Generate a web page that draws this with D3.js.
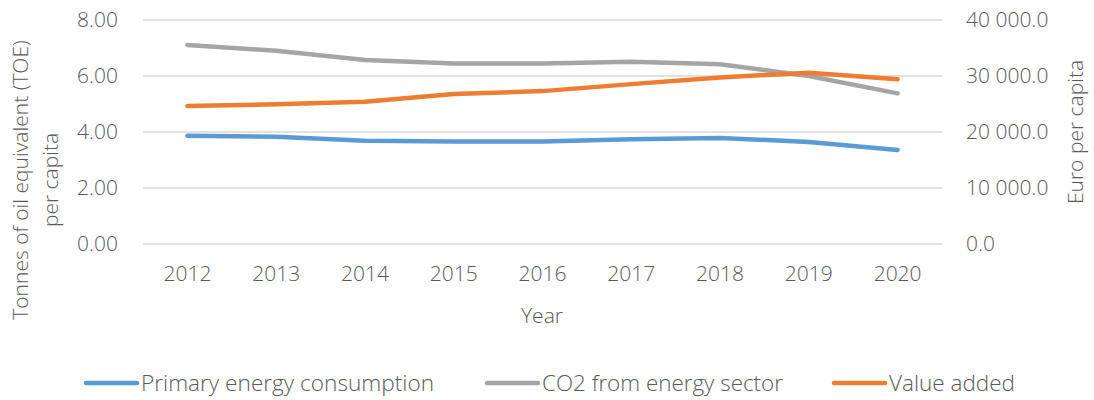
<!DOCTYPE html>
<html><head><meta charset="utf-8">
<script src="https://cdn.jsdelivr.net/npm/d3@7"></script>
<style>body{margin:0;background:#fff}svg{display:block}text{font-family:"Open Sans",sans-serif;fill:#595959;font-weight:300}</style>
</head><body><svg id="c" width="1094" height="400"></svg>
<script>
const years = [2012,2013,2014,2015,2016,2017,2018,2019,2020];
const primaryEnergy = [3.87,3.83,3.69,3.66,3.66,3.74,3.79,3.64,3.36];
const co2Energy = [7.11,6.90,6.57,6.45,6.45,6.51,6.42,6.00,5.38];
const valueAdded = [24650,24950,25400,26800,27300,28550,29750,30600,29400];
const leftTicks = [0,2,4,6,8];
const rightTicks = [0,10000,20000,30000,40000];
const seriesNames = ["Primary energy consumption","CO2 from energy sector","Value added"];
const colors = ["#5b9bd5","#a5a5a5","#ed7d31"];

const svg = d3.select("#c");
const x = d3.scaleBand().domain(years).range([143,942]);
const yL = d3.scaleLinear().domain([0,8]).range([244,20]);
const yR = d3.scaleLinear().domain([0,40000]).range([244,20]);
const cx = d => x(d) + x.bandwidth()/2;

// gridlines
svg.append("g").selectAll("line").data(leftTicks).join("line")
  .attr("x1",143).attr("x2",942).attr("y1",d=>yL(d)).attr("y2",d=>yL(d))
  .attr("stroke","#d9d9d9").attr("stroke-width",1.5);

// left axis
const la = svg.append("g").attr("transform","translate(143,0)")
  .call(d3.axisLeft(yL).tickValues(leftTicks).tickSize(0).tickPadding(25).tickFormat(d3.format(".2f")));
la.select(".domain").remove();
la.selectAll("text").style("font-size","21px").attr("fill","#595959");

// right axis
const ra = svg.append("g").attr("transform","translate(942,0)")
  .call(d3.axisRight(yR).tickValues(rightTicks).tickSize(0).tickPadding(24)
    .tickFormat(d => d3.format(",.1f")(d).replace(/,/g," ")));
ra.select(".domain").remove();
ra.selectAll("text").style("font-size","21px").attr("fill","#595959");

// bottom axis
const ba = svg.append("g").attr("transform","translate(0,244)")
  .call(d3.axisBottom(x).tickSize(0).tickPadding(22));
ba.select(".domain").remove();
ba.selectAll("text").style("font-size","21px").attr("fill","#595959");

// axis titles
svg.append("text").attr("transform","translate(28,180) rotate(-90)").attr("text-anchor","middle")
  .style("font-size","21px").text("Tonnes of oil equivalent (TOE)");
svg.append("text").attr("transform","translate(58,180) rotate(-90)").attr("text-anchor","middle")
  .style("font-size","21px").text("per capita");
svg.append("text").attr("transform","translate(1083,132) rotate(-90)").attr("text-anchor","middle")
  .style("font-size","21px").text("Euro per capita");
svg.append("text").attr("x",542).attr("y",323).attr("text-anchor","middle")
  .style("font-size","21px").text("Year");

// lines
const data = [
  {vals: primaryEnergy, y: yL},
  {vals: co2Energy, y: yL},
  {vals: valueAdded, y: yR}
];
data.forEach((s,i) => {
  const line = d3.line().x((d,j)=>cx(years[j])).y(d=>s.y(d));
  svg.append("path").datum(s.vals).attr("d",line).attr("fill","none")
    .attr("stroke",colors[i]).attr("stroke-width",4.5)
    .attr("stroke-linecap","round").attr("stroke-linejoin","round");
});

// legend
const legX = [86,487,834];
const legW = [293,241,126];
const lg = svg.append("g");
seriesNames.forEach((n,i) => {
  lg.append("line").attr("x1",legX[i]).attr("x2",legX[i]+51).attr("y1",383).attr("y2",383)
    .attr("stroke",colors[i]).attr("stroke-width",4.5).attr("stroke-linecap","round");
  lg.append("text").attr("x",legX[i]+55).attr("y",391).style("font-size","22px")
    .attr("textLength",legW[i]).attr("lengthAdjust","spacingAndGlyphs").text(n);
});
</script></body></html>
